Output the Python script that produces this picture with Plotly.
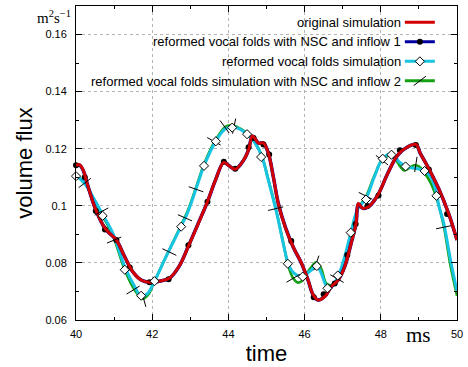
import numpy as np
import plotly.graph_objects as go

# ---------------- data ----------------
red_x = [40.00, 40.09, 40.19, 40.28, 40.49, 40.71, 40.84, 41.06, 41.28, 41.49, 41.71, 41.93,
         42.19, 42.45, 42.71, 42.95, 43.20, 43.45, 43.66, 43.88, 44.00, 44.18, 44.40, 44.53,
         44.63, 44.79, 44.92, 45.05, 45.18, 45.31, 45.49, 45.70, 45.92, 46.09, 46.22, 46.35,
         46.53, 46.70, 46.88, 47.05, 47.22, 47.35, 47.41, 47.53, 47.70, 47.92, 48.18, 48.44,
         48.70, 48.92, 49.04, 49.26, 49.52, 49.78, 50.00]
red_y = [0.1142, 0.1144, 0.1125, 0.1084, 0.0996, 0.0932, 0.0909, 0.0880, 0.0821, 0.0769, 0.0740, 0.0732,
         0.0736, 0.0746, 0.0789, 0.0858, 0.0935, 0.1014, 0.1090, 0.1152, 0.1142, 0.1128, 0.1160, 0.1196,
         0.1245, 0.1220, 0.1220, 0.1184, 0.1101, 0.1008, 0.0926, 0.0856, 0.0798, 0.0740, 0.0690, 0.0670,
         0.0682, 0.0717, 0.0740, 0.0786, 0.0868, 0.0938, 0.1008, 0.0991, 0.0999, 0.1037, 0.1113, 0.1177,
         0.1206, 0.1215, 0.1183, 0.1130, 0.1060, 0.0973, 0.0880]

# the inflow-1 curve runs underneath the red curve (read along it)
inflow1_line_x = [40.00, 40.09, 40.19, 40.28, 40.49, 40.71, 40.84, 41.06, 41.28, 41.49, 41.71, 41.93,
                  42.19, 42.45, 42.71, 42.95, 43.20, 43.45, 43.66, 43.88, 44.00, 44.18, 44.40, 44.53,
                  44.63, 44.79, 44.92, 45.05, 45.18, 45.31, 45.49, 45.70, 45.92, 46.09, 46.22, 46.35,
                  46.53, 46.70, 46.88, 47.05, 47.22, 47.35, 47.41, 47.53, 47.70, 47.92, 48.18, 48.44,
                  48.70, 48.92, 49.04, 49.26, 49.52, 49.78, 50.00]
inflow1_line_y = [0.1142, 0.1143, 0.1124, 0.1084, 0.0996, 0.0932, 0.0909, 0.0880, 0.0821, 0.0769, 0.0740, 0.0732,
                  0.0736, 0.0746, 0.0789, 0.0859, 0.0936, 0.1014, 0.1090, 0.1153, 0.1142, 0.1128, 0.1160, 0.1197,
                  0.1244, 0.1220, 0.1220, 0.1184, 0.1101, 0.1008, 0.0927, 0.0856, 0.0798, 0.0740, 0.0689, 0.0670,
                  0.0683, 0.0717, 0.0740, 0.0786, 0.0868, 0.0938, 0.1006, 0.0991, 0.0999, 0.1037, 0.1113, 0.1177,
                  0.1206, 0.1215, 0.1183, 0.1130, 0.1060, 0.0973, 0.0880]

inflow1_x = [40.00, 40.23, 40.52, 40.76, 41.06, 41.41, 41.93, 42.43, 42.95, 43.45, 43.88, 44.18,
             44.53, 44.66, 44.92, 45.07, 45.65, 46.24, 46.50, 46.79, 47.12, 47.34, 47.65, 47.94,
             48.50, 48.92, 49.26, 49.74]
inflow1_y = [0.1142, 0.1100, 0.0982, 0.0917, 0.0880, 0.0784, 0.0732, 0.0743, 0.0862, 0.1014, 0.1154, 0.1130,
             0.1205, 0.1238, 0.1215, 0.1180, 0.0877, 0.0680, 0.0690, 0.0728, 0.0828, 0.0936, 0.0999, 0.1036,
             0.1195, 0.1213, 0.1127, 0.0971]

reformed_x = [40.00, 40.23, 40.49, 40.71, 40.97, 41.28, 41.54, 41.71, 41.88, 42.06, 42.36, 42.75,
              42.92, 43.14, 43.36, 43.66, 43.92, 44.14, 44.49, 44.71, 44.88, 45.05, 45.27, 45.44,
              45.57, 45.70, 45.92, 46.18, 46.31, 46.44, 46.57, 46.68, 46.88, 47.05, 47.22, 47.40,
              47.61, 47.83, 48.05, 48.30, 48.48, 48.65, 49.13, 49.31, 49.44, 49.53, 49.65, 49.83, 50.00]
reformed_y = [0.1107, 0.1078, 0.1020, 0.0967, 0.0903, 0.0786, 0.0717, 0.0682, 0.0693, 0.0736, 0.0821, 0.0926,
              0.0973, 0.1055, 0.1140, 0.1224, 0.1270, 0.1276, 0.1252, 0.1218, 0.1172, 0.1089, 0.0973, 0.0868,
              0.0798, 0.0767, 0.0753, 0.0775, 0.0792, 0.0763, 0.0720, 0.0712, 0.0753, 0.0821, 0.0909, 0.0991,
              0.1025, 0.1101, 0.1165, 0.1182, 0.1154, 0.1138, 0.1124, 0.1101, 0.1055, 0.0996, 0.0940, 0.0810, 0.0700]

reformed_mk_x = [40.00, 40.70, 41.28, 41.71, 42.06, 42.76, 43.36, 43.67, 44.10, 44.49, 44.86, 45.56,
                 45.95, 46.32, 46.60, 46.87, 47.21, 47.61, 48.05, 48.28, 48.65, 49.15, 49.46]
reformed_mk_y = [0.1104, 0.0965, 0.0776, 0.0685, 0.0736, 0.0927, 0.1140, 0.1226, 0.1274, 0.1251, 0.1171, 0.0797,
                 0.0752, 0.0789, 0.0711, 0.0756, 0.0906, 0.1022, 0.1165, 0.1179, 0.1138, 0.1122, 0.1035]

inflow2_x = [40.00, 40.23, 40.49, 40.71, 40.97, 41.28, 41.54, 41.75, 41.90, 42.06, 42.36, 42.75,
             42.92, 43.14, 43.36, 43.66, 43.92, 44.05, 44.20, 44.49, 44.71, 44.88, 45.05, 45.27,
             45.44, 45.57, 45.70, 45.83, 45.96, 46.14, 46.31, 46.44, 46.57, 46.70, 46.88, 47.05,
             47.22, 47.40, 47.61, 47.83, 48.05, 48.25, 48.40, 48.52, 48.61, 48.72, 48.87, 49.00,
             49.13, 49.31, 49.48, 49.65, 49.83, 50.00]
inflow2_y = [0.1107, 0.1078, 0.1018, 0.0962, 0.0895, 0.0775, 0.0705, 0.0675, 0.0690, 0.0736, 0.0821, 0.0930,
             0.0978, 0.1060, 0.1146, 0.1230, 0.1277, 0.1282, 0.1278, 0.1254, 0.1220, 0.1174, 0.1091, 0.0975,
             0.0870, 0.0790, 0.0746, 0.0731, 0.0740, 0.0779, 0.0802, 0.0778, 0.0728, 0.0722, 0.0750, 0.0815,
             0.0905, 0.0990, 0.1032, 0.1105, 0.1165, 0.1175, 0.1160, 0.1136, 0.1124, 0.1130, 0.1142, 0.1138,
             0.1119, 0.1080, 0.1020, 0.0930, 0.0790, 0.0685]

inflow2_mk_x = [40.23, 40.67, 41.00, 41.50, 41.78, 42.45, 42.86, 43.15, 43.62, 43.90, 44.15, 45.24,
                45.70, 46.31, 46.85, 47.60, 48.03, 48.92, 49.65]
inflow2_mk_y = [0.1080, 0.0980, 0.0880, 0.0705, 0.0672, 0.0838, 0.0958, 0.1058, 0.1226, 0.1277, 0.1279, 0.0990,
                0.0746, 0.0800, 0.0745, 0.1035, 0.1160, 0.1145, 0.0925]

names = ["original simulation",
         "reformed vocal folds with NSC and inflow 1",
         "reformed vocal folds simulation",
         "reformed vocal folds simulation with NSC and inflow 2"]

x_ticks = [40, 42, 44, 46, 48, 50]
y_ticks = [0.06, 0.08, 0.1, 0.12, 0.14, 0.16]

# ---------------- styling ----------------
RED = "#d20000"
BLUE = "#0000a0"
CYAN = "#18c4e0"
GREEN = "#14a014"

W, H = 468, 367
ML, MR, MT, MB = 76, 8, 5, 47
XR = [40, 50]
YR = [0.06, 0.17]
kx = (W - ML - MR) / (XR[1] - XR[0])
ky = (H - MT - MB) / (YR[1] - YR[0])


def gapped(xs, ys):
    gx, gy = [], []
    for a, b in zip(xs, ys):
        gx += [a, None]
        gy += [b, None]
    return gx, gy


# tick angles perpendicular to the green curve (screen space)
gx_arr = np.array(inflow2_x)
gy_arr = np.array(inflow2_y)
slopes = np.gradient(gy_arr, gx_arr)
mk_slope = np.interp(inflow2_mk_x, gx_arr, slopes)
tick_angles = list(np.degrees(np.arctan(-mk_slope * ky / kx)))

fig = go.Figure()

fig.add_trace(go.Scatter(x=inflow2_x, y=inflow2_y, mode="lines", line=dict(color=GREEN, width=2.6, shape="spline"),
                         showlegend=False, hoverinfo="skip"))
fig.add_trace(go.Scatter(x=reformed_x, y=reformed_y, mode="lines", line=dict(color=CYAN, width=3, shape="spline"),
                         showlegend=False, hoverinfo="skip"))
fig.add_trace(go.Scatter(x=inflow1_line_x, y=inflow1_line_y, mode="lines",
                         line=dict(color=BLUE, width=3.5, shape="spline"),
                         showlegend=False, hoverinfo="skip"))
bx, by = gapped(inflow1_x, inflow1_y)
fig.add_trace(go.Scatter(x=bx, y=by, mode="lines+markers", name=" ", legendrank=2, cliponaxis=False,
                         line=dict(color=BLUE, width=3),
                         marker=dict(symbol="circle", size=6, color="black", line=dict(width=0))))
fig.add_trace(go.Scatter(x=red_x, y=red_y, mode="lines", name=" ", legendrank=1,
                         line=dict(color=RED, width=3, shape="spline")))
tx, ty = gapped(inflow2_mk_x, inflow2_mk_y)
ang = []
for a in tick_angles:
    ang += [a, 0]
fig.add_trace(go.Scatter(x=tx, y=ty, mode="lines+markers", name=" ", legendrank=4, cliponaxis=False,
                         line=dict(color=GREEN, width=3),
                         marker=dict(symbol="line-ns", size=11, angle=ang, color="black",
                                     line=dict(width=1, color="black"))))
cx, cy = gapped(reformed_mk_x, reformed_mk_y)
fig.add_trace(go.Scatter(x=cx, y=cy, mode="lines+markers", name=" ", legendrank=3, cliponaxis=False,
                         line=dict(color=CYAN, width=3),
                         marker=dict(symbol="diamond", size=7, color="white",
                                     line=dict(width=1, color="black"))))

axis_common = dict(
    showline=True, linecolor="black", linewidth=1, mirror="ticks",
    ticks="inside", ticklen=6, tickwidth=1, tickcolor="black",
    showgrid=True, gridcolor="#b4b4b4", griddash="dot", gridwidth=1,
    zeroline=False,
    tickfont=dict(family="Liberation Sans, Arial, sans-serif", size=11, color="black"),
    minor=dict(ticks="inside", ticklen=3, tickcolor="black", showgrid=False),
)

fig.update_layout(
    width=W, height=H,
    margin=dict(l=ML, r=MR, t=MT, b=MB),
    paper_bgcolor="white", plot_bgcolor="white",
    font=dict(family="Liberation Sans, Arial, sans-serif", color="black"),
    xaxis=dict(range=XR, tickvals=x_ticks, ticktext=[str(v) for v in x_ticks],
               title=dict(text="time", font=dict(size=22), standoff=6),
               ticklabelstandoff=4, **axis_common),
    yaxis=dict(range=YR, tickvals=y_ticks, ticktext=[f"{v:g}" for v in y_ticks],
               title=dict(text="volume flux", font=dict(size=22), standoff=6),
               ticklabelstandoff=6, **axis_common),
    showlegend=True,
    legend=dict(x=0.85, xanchor="left", y=0.995, yanchor="top", bgcolor="rgba(0,0,0,0)",
                font=dict(size=12.7), traceorder="normal", itemwidth=30,
                tracegroupgap=0),
)
fig.update_xaxes(minor=dict(dtick=1, tick0=40))
fig.update_yaxes(minor=dict(dtick=0.01, tick0=0.06))

fig.add_shape(type="rect", xref="paper", yref="paper", x0=0, x1=1, y0=(H - MB - 66) / (H - MT - MB), y1=1,
              fillcolor="white", line=dict(width=0), layer="between")

row_px = [21.5, 41, 61, 80.5]
for name, r in zip(names, row_px):
    fig.add_annotation(text=name, xref="paper", yref="paper", x=(406 - ML) / (W - ML - MR),
                       y=(H - MB - r) / (H - MT - MB), xanchor="right", yanchor="middle",
                       showarrow=False, font=dict(size=13, family="Liberation Sans, Arial, sans-serif"))

fig.add_annotation(text="ms", xref="x", yref="paper", x=49.0, y=-15 / (H - MT - MB),
                   xanchor="center", yanchor="middle", showarrow=False,
                   font=dict(size=21, family="Liberation Serif, Times New Roman, serif"))
fig.add_annotation(text="m<sup>2</sup>s<sup>\u22121</sup>", xref="paper", yref="paper", x=-3 / (W - ML - MR),
                   y=1, xanchor="right", yanchor="top", showarrow=False,
                   font=dict(size=15, family="Liberation Serif, Times New Roman, serif"))

fig.write_html("out.html", config={"displayModeBar": False},
               post_script="document.body.style.margin='0';document.body.style.overflow='hidden';")
